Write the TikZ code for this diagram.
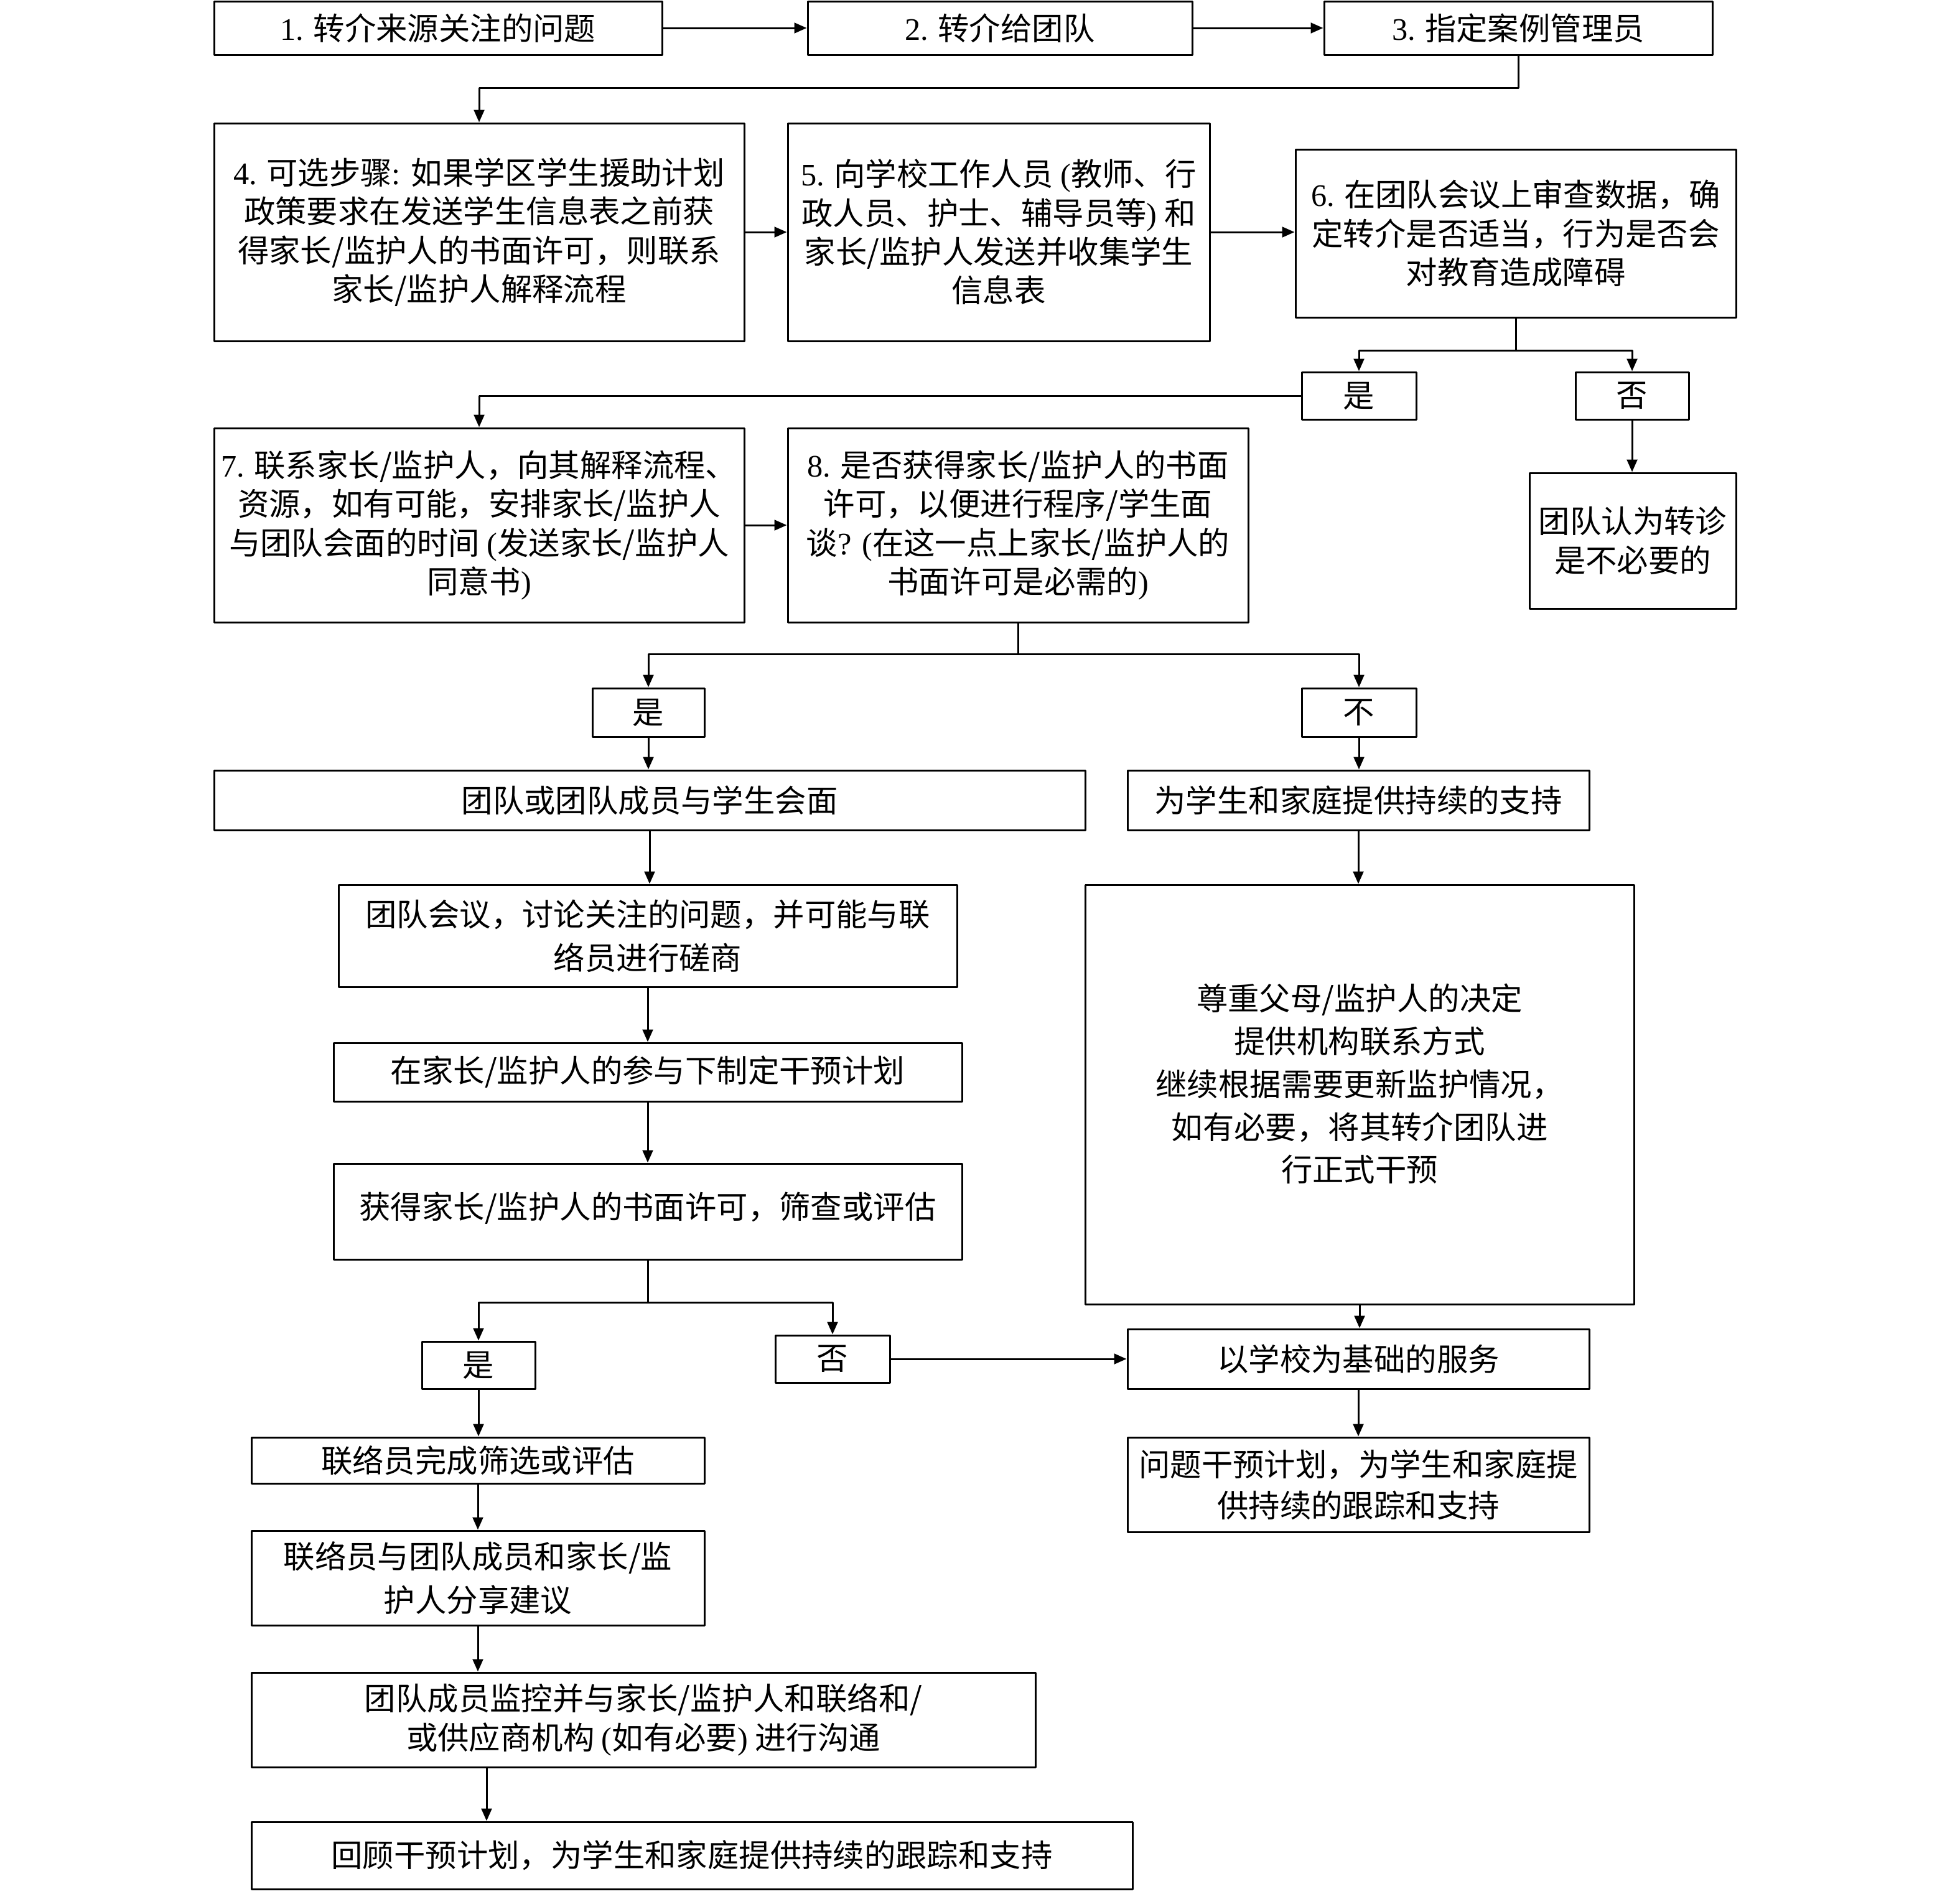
\documentclass[tikz,border=0pt]{standalone}
\usepackage{fontspec}
\setmainfont{Noto Sans CJK SC}
\newfontfamily\lat{Liberation Serif}
\usetikzlibrary{arrows.meta}
\newcommand\lt[1]{{\lat #1}}
\newcommand\bx[7][]{\node[box,minimum width={(#5-#3)*0.5pt},minimum height={(#6-#4)*0.5pt},#1] (#2) at ({(#3+#5)/2},{(#4+#6)/2}) {#7};}
\begin{document}
\begin{tikzpicture}[x=0.5pt,y=-0.5pt,
  txt/.style={inner sep=0pt,align=center,font=\fontsize{12.6}{15.6}\selectfont},
  box/.style={txt,draw=black,line width=0.75pt,line join=round},
  wide/.style={font=\fontsize{12.6}{17.5}\selectfont},
  conn/.style={line width=0.75pt,line join=round},
  arr/.style={conn,-{Triangle[length=5pt,width=4.2pt]}}]
\useasboundingbox (0,0) rectangle (1575,1526);
% row 1
\bx{b1}{172}{1}{532}{44}{\lt{1.} 转介来源关注的问题}
\bx{b2}{649}{1}{958}{44}{\lt{2.} 转介给团队}
\bx{b3}{1064}{1}{1376}{44}{\lt{3.} 指定案例管理员}
% row 2
\bx{b4}{172}{99}{598}{274}{\lt{4.} 可选步骤\lt{: }如果学区学生援助计划\\政策要求在发送学生信息表之前获\\得家长/监护人的书面许可，则联系\\家长/监护人解释流程}
\bx{b5}{633}{99}{972}{274}{\lt{5.} 向学校工作人员 \lt{(}教师、行\\政人员、护士、辅导员等\lt{)} 和\\家长/监护人发送并收集学生\\信息表}
\bx{b6}{1041}{120}{1395}{255}{\lt{6.} 在团队会议上审查数据，确\\定转介是否适当，行为是否会\\对教育造成障碍}
\bx{y1}{1046}{299}{1138}{337}{是}
\bx{n1}{1266}{299}{1357}{337}{否}
% row 3
\bx{b7}{172}{344}{598}{500}{\lt{7.} 联系家长/监护人，向其解释流程、\\资源，如有可能，安排家长/监护人\\与团队会面的时间 \lt{(}发送家长/监护人\\同意书\lt{)}}
\bx{b8}{633}{344}{1003}{500}{\lt{8.} 是否获得家长/监护人的书面\\许可，以便进行程序/学生面\\谈\lt{? (}在这一点上家长/监护人的\\书面许可是必需的\lt{)}}
\bx{b9}{1229}{380}{1395}{489}{团队认为转诊\\是不必要的}
\bx{y2}{476}{553}{566}{592}{是}
\bx{n2}{1046}{553}{1138}{592}{不}
% row 4
\bx{b10}{172}{619}{872}{667}{团队或团队成员与学生会面}
\bx{b11}{906}{619}{1277}{667}{为学生和家庭提供持续的支持}
\bx[wide]{b12}{272}{711}{769}{793}{团队会议，讨论关注的问题，并可能与联\\络员进行磋商}
\bx{b13}{268}{838}{773}{885}{在家长/监护人的参与下制定干预计划}
\bx{b14}{268}{935}{773}{1012}{}
\node[txt] (b14t) at (520.5,971) {获得家长/监护人的书面许可，筛查或评估};
\bx{b16}{872}{711}{1313}{1048}{}
\node[txt,font=\fontsize{12.6}{17.2}\selectfont] (b16t) at (1092.5,871) {尊重父母/监护人的决定\\提供机构联系方式\\继续根据需要更新监护情况，\\如有必要，将其转介团队进\\行正式干预};
\bx{y3}{339}{1078}{430}{1116}{是}
\bx{n3}{623}{1073}{715}{1111}{否}
\bx{b15}{906}{1068}{1277}{1116}{以学校为基础的服务}
\bx[font=\fontsize{12.6}{16.5}\selectfont]{b17}{906}{1155}{1277}{1231}{问题干预计划，为学生和家庭提\\供持续的跟踪和支持}
\bx{b18}{202}{1155}{566}{1192}{联络员完成筛选或评估}
\bx[wide]{b19}{202}{1230}{566}{1306}{联络员与团队成员和家长/监\\护人分享建议}
\bx{b20}{202}{1344}{832}{1420}{团队成员监控并与家长/监护人和联络和/\\或供应商机构 \lt{(}如有必要\lt{)} 进行沟通}
\bx{b21}{202}{1464}{910}{1518}{回顾干预计划，为学生和家庭提供持续的跟踪和支持}
% connectors
\draw[arr] (b1) -- (b2);
\draw[arr] (b2) -- (b3);
\draw[arr] (b3.south) -- ++(0,26) -| (b4.north);
\draw[arr] (b4) -- (b5);
\draw[arr] (b5.east) -- (b5.east -| b6.west);
\draw[conn] (b6.south) -- ++(0,26) coordinate (j6);
\draw[arr] (j6) -| (y1.north);
\draw[arr] (j6) -| (n1.north);
\draw[arr] (y1.west) -| (b7.north);
\draw[arr] (n1.south) -- (n1.south |- b9.north);
\draw[arr] (b7) -- (b8);
\draw[conn] (b8.south) -- ++(0,25) coordinate (j8);
\draw[arr] (j8) -| (y2.north);
\draw[arr] (j8) -| (n2.north);
\draw[arr] (y2.south) -- (y2.south |- b10.north);
\draw[arr] (n2.south) -- (n2.south |- b11.north);
\draw[arr] (b10.south) -- (b10.south |- b12.north);
\draw[arr] (b12.south) -- (b12.south |- b13.north);
\draw[arr] (b13.south) -- (b13.south |- b14.north);
\draw[conn] (b14.south) -- ++(0,34) coordinate (j14);
\draw[arr] (j14) -| (y3.north);
\draw[arr] (j14) -| (n3.north);
\draw[arr] (n3.east) -- (n3.east -| b15.west);
\draw[arr] (b11.south) -- (b11.south |- b16.north);
\draw[arr] (b16.south) -- (b16.south |- b15.north);
\draw[arr] (b15.south) -- (b15.south |- b17.north);
\draw[arr] (y3.south) -- (y3.south |- b18.north);
\draw[arr] (b18.south) -- (b18.south |- b19.north);
\draw[arr] (b19.south) -- (b19.south |- b20.north);
\coordinate (k21) at (391,0);
\draw[arr] (b20.south -| k21) -- (b21.north -| k21);
\end{tikzpicture}
\end{document}
